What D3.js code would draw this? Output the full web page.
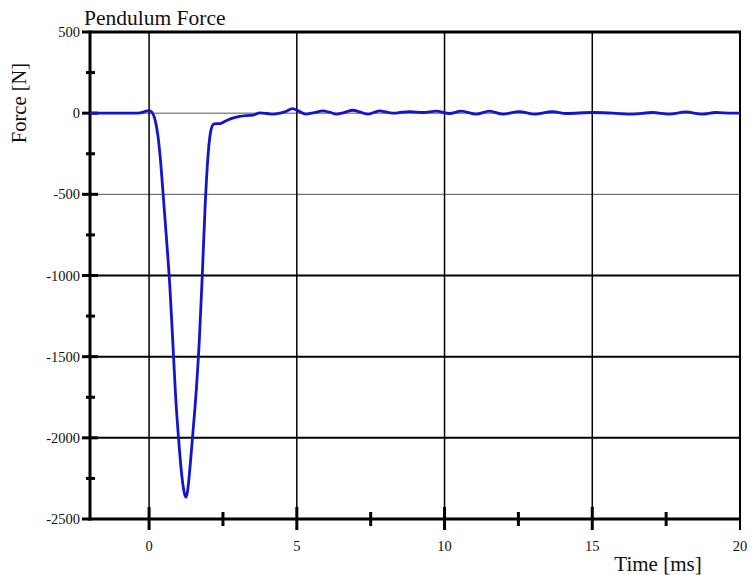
<!DOCTYPE html>
<html><head><meta charset="utf-8">
<script src="https://cdn.jsdelivr.net/npm/d3@7"></script>
<style>body{margin:0;background:#fff}svg{display:block}text{font-family:"Liberation Serif","Times New Roman",serif}</style>
</head><body><svg id="c" width="750" height="575"></svg>
<script>
const time = [-2, -1, -0.5, -0.3, -0.15, 0, 0.1, 0.2, 0.3, 0.4, 0.5, 0.6, 0.7, 0.8, 0.9, 1.0, 1.1, 1.2, 1.25, 1.3, 1.4, 1.5, 1.6, 1.7, 1.8, 1.9, 2.0, 2.1, 2.2, 2.4, 2.6, 2.8, 3.07, 3.3, 3.52, 3.75, 4.0, 4.19, 4.43, 4.65, 4.85, 5.05, 5.3, 5.6, 5.89, 6.1, 6.34, 6.6, 6.9, 7.15, 7.41, 7.6, 7.8, 8.05, 8.31, 8.55, 8.82, 9.26, 9.72, 10.17, 10.56, 11.07, 11.52, 11.97, 12.53, 13.04, 13.66, 14.11, 15.01, 15.69, 16.36, 17.04, 17.6, 18.16, 18.72, 19.17, 19.74, 20];
const force = [0, 0, 0, 2, 10, 16, 5, -40, -140, -320, -560, -800, -1060, -1400, -1750, -2010, -2220, -2345, -2365, -2330, -2150, -1930, -1700, -1400, -1000, -560, -250, -100, -66, -64, -47, -32, -20, -15, -12, 2, -2, -6, 0, 12, 28, 14, -6, 4, 14, 6, -6, 4, 18, 6, -6, 4, 14, 6, 0, 6, 10, 4, 12, -2, 12, -6, 12, -6, 10, -6, 10, -2, 4, 0, -6, 4, -6, 8, -6, 4, 0, 0];
const xMajorTicks = [0, 5, 10, 15, 20];
const xMinorTicks = [2.5, 7.5, 12.5, 17.5];
const yMajorTicks = [500, 0, -500, -1000, -1500, -2000, -2500];
const yMinorTicks = [250, -250, -750, -1250, -1750, -2250];

const svg = d3.select("#c");
const L = 90, R = 740, T = 32, B = 519;
const x = d3.scaleLinear().domain([-2, 20]).range([L, R]);
const y = d3.scaleLinear().domain([-2500, 500]).range([B, T]);

// horizontal grid
svg.append("g").selectAll("line").data(yMajorTicks.filter(v => v < 500 && v > -2500)).join("line")
  .attr("x1", L).attr("x2", R).attr("y1", d => y(d)).attr("y2", d => y(d))
  .attr("stroke", d => d >= -500 ? "#555" : "#000")
  .attr("stroke-width", d => d >= -500 ? 1 : 2);
// vertical grid
svg.append("g").selectAll("line").data(xMajorTicks.filter(v => v < 20)).join("line")
  .attr("x1", d => x(d)).attr("x2", d => x(d)).attr("y1", T).attr("y2", B)
  .attr("stroke", "#000").attr("stroke-width", 1.5);

// frame
svg.append("line").attr("x1", L).attr("x2", R + 1).attr("y1", T).attr("y2", T).attr("stroke", "#000").attr("stroke-width", 3);
svg.append("line").attr("x1", R).attr("x2", R).attr("y1", T).attr("y2", B + 11).attr("stroke", "#000").attr("stroke-width", 2);

// y axis ticks
svg.append("g").selectAll("line").data(yMajorTicks).join("line")
  .attr("x1", L - 8).attr("x2", d => (d === 500 || d === -2500) ? L : L + 8)
  .attr("y1", d => y(d)).attr("y2", d => y(d)).attr("stroke", "#000").attr("stroke-width", 3);
svg.append("g").selectAll("line").data(yMinorTicks).join("line")
  .attr("x1", L - 4).attr("x2", L + 5).attr("y1", d => y(d)).attr("y2", d => y(d))
  .attr("stroke", "#000").attr("stroke-width", 3);
svg.append("g").selectAll("text").data(yMajorTicks).join("text")
  .attr("x", L - 10).attr("y", d => y(d) + 5).attr("text-anchor", "end")
  .attr("font-size", 14.5).attr("fill", "#111").text(d => d);

// x axis ticks
svg.append("g").selectAll("line").data(xMajorTicks).join("line")
  .attr("x1", d => x(d)).attr("x2", d => x(d))
  .attr("y1", d => d === 20 ? B : B - 12).attr("y2", B + 11)
  .attr("stroke", "#000").attr("stroke-width", d => d === 20 ? 2 : 3);
svg.append("g").selectAll("line").data(xMinorTicks).join("line")
  .attr("x1", d => x(d)).attr("x2", d => x(d)).attr("y1", B - 7).attr("y2", B + 7)
  .attr("stroke", "#000").attr("stroke-width", 3);
svg.append("g").selectAll("text").data(xMajorTicks).join("text")
  .attr("x", d => x(d)).attr("y", B + 32).attr("text-anchor", "middle")
  .attr("font-size", 14.5).attr("fill", "#111").text(d => d);

// axes lines
svg.append("line").attr("x1", L).attr("x2", L).attr("y1", T - 1.5).attr("y2", B + 1.5).attr("stroke", "#000").attr("stroke-width", 3);
svg.append("line").attr("x1", L - 1.5).attr("x2", R).attr("y1", B).attr("y2", B).attr("stroke", "#000").attr("stroke-width", 3);

// data line
const pts = time.map((t, i) => [t, force[i]]);
svg.append("path").datum(pts)
  .attr("d", d3.line().x(d => x(d[0])).y(d => y(d[1])).curve(d3.curveMonotoneX))
  .attr("fill", "none").attr("stroke", "#1414cc").attr("stroke-width", 2.8).attr("stroke-linejoin", "round");

// labels
svg.append("text").attr("x", 84).attr("y", 25).attr("font-size", 21.5).attr("fill", "#111").text("Pendulum Force");
svg.append("text").attr("transform", "translate(26,103) rotate(-90)").attr("text-anchor", "middle")
  .attr("font-size", 20.5).attr("fill", "#111").text("Force [N]");
svg.append("text").attr("x", 658).attr("y", 571).attr("text-anchor", "middle")
  .attr("font-size", 21).attr("fill", "#111").text("Time [ms]");
</script></body></html>
